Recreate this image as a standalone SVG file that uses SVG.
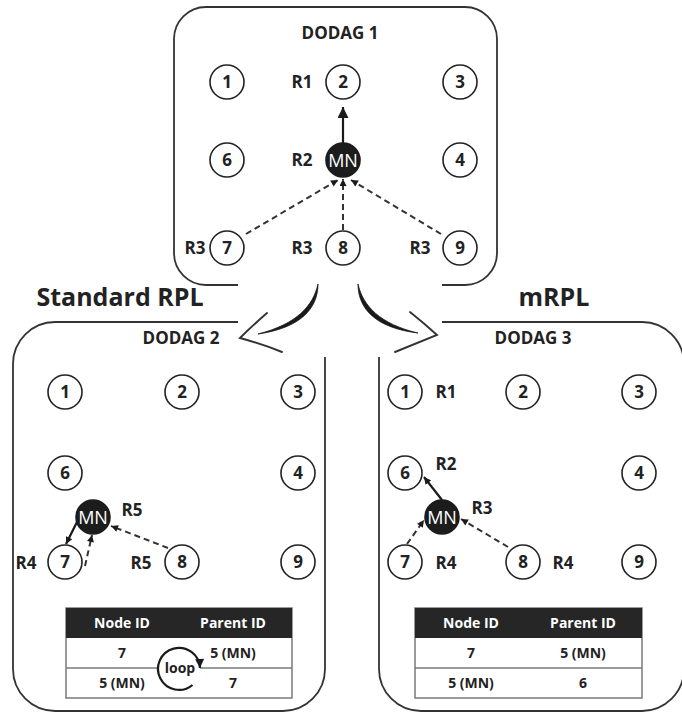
<svg xmlns="http://www.w3.org/2000/svg" width="682" height="713" viewBox="0 0 682 713">
<defs>
<style>
text{font-family:"Open Sans","Liberation Sans",sans-serif;font-weight:700;fill:#222;text-anchor:middle}
.box{fill:none;stroke:#333;stroke-width:1.8}
.nd circle{fill:#fff;stroke:#222;stroke-width:1.6}
.nd text{font-size:17px}
.mn circle{fill:#1c1c1c;stroke:#1c1c1c;stroke-width:1.6}
.mn text{font-size:18px;font-weight:400;fill:#fff}
.rl{font-size:17px}
.ttl{font-size:17px}
.big{font-size:25px}
.solid{stroke:#1a1a1a;stroke-width:2.2;fill:none}
.dash{stroke:#333;stroke-width:2;fill:none;stroke-dasharray:6 4}
.th{fill:#262626}
.tb{fill:#fff;stroke:#7a7a7a;stroke-width:1.5}
.tl{stroke:#7a7a7a;stroke-width:1.5}
.ht{font-size:14px;fill:#fff}
.rt{font-size:14px}
.brush{fill:#1a1a1a;stroke:#1a1a1a;stroke-width:0.8}
.arm{fill:none;stroke:#333;stroke-width:1.9;stroke-linecap:round}
</style>
<marker id="ab" viewBox="0 0 10 10" refX="10" refY="5" markerWidth="12" markerHeight="11" markerUnits="userSpaceOnUse" orient="auto"><path d="M0,0 L10,5 L0,10 z" fill="#1a1a1a"/></marker>
<marker id="as" viewBox="0 0 10 10" refX="10" refY="5" markerWidth="9" markerHeight="7" markerUnits="userSpaceOnUse" orient="auto"><path d="M0,0 L10,5 L0,10 z" fill="#1a1a1a"/></marker>
<marker id="al" viewBox="0 0 10 10" refX="10" refY="5" markerWidth="10" markerHeight="9" markerUnits="userSpaceOnUse" orient="auto"><path d="M0,0 L10,5 L0,10 z" fill="#1a1a1a"/></marker>
</defs>
<rect width="682" height="713" fill="#fff"/>

<!-- boxes -->
<g id="dodag1">
<path class="box" d="M238,285 H206 A32,32 0 0 1 174,253 V39 A32,32 0 0 1 206,7 H465 A32,32 0 0 1 497,39 V253 A32,32 0 0 1 465,285 H442"/>
<text class="ttl" x="340" y="39">DODAG 1</text>
</g>
<g id="dodag2">
<path class="box" d="M238,322 H55 A42,42 0 0 0 13,364 V669 A42,42 0 0 0 55,711 H283 A42,42 0 0 0 325,669 V357"/>
<text class="ttl" x="181" y="344">DODAG 2</text>
</g>
<g id="dodag3">
<path class="box" d="M379,357 V669 A42,42 0 0 0 421,711 H642 A42,42 0 0 0 684,669 V364 A42,42 0 0 0 642,322 H442"/>
<text class="ttl" x="533" y="344">DODAG 3</text>
</g>
<text class="big" x="120" y="306">Standard RPL</text>
<text class="big" x="554" y="306">mRPL</text>

<!-- connectors -->
<g id="connectors">
<path class="brush" d="M318,284 C318,309 300,328 258,334 C297,324 313,306 318,284 Z"/>
<path class="arm" d="M267,313 Q252,326 240,338 Q262,344 282,352"/>
<path class="brush" d="M358,284 C358,309 376,328 418,333 C380,324 363,306 358,284 Z"/>
<path class="arm" d="M410,312 Q425,324 437,335 Q415,344 395,352"/>

<line class="solid" x1="343" y1="143" x2="343" y2="107" marker-end="url(#ab)"/>
<line class="dash" x1="246" y1="234" x2="338" y2="180" marker-end="url(#as)"/>
<line class="dash" x1="343" y1="230" x2="343" y2="179" marker-end="url(#as)"/>
<line class="dash" x1="441" y1="234" x2="351" y2="180" marker-end="url(#as)"/>

<line class="solid" x1="77" y1="522" x2="66" y2="544" stroke-width="1.6" marker-end="url(#as)"/>
<line class="dash" x1="85" y1="566" x2="92" y2="535" marker-end="url(#as)"/>
<line class="dash" x1="168" y1="548" x2="111" y2="526" marker-end="url(#as)"/>

<line class="solid" x1="442" y1="500" x2="424" y2="477" stroke-width="1.6" marker-end="url(#as)"/>
<line class="dash" x1="407" y1="544" x2="424" y2="520" marker-end="url(#as)"/>
<line class="dash" x1="508" y1="547" x2="461" y2="519" marker-end="url(#as)"/>
</g>

<!-- DODAG 1 nodes -->
<g id="d1-n1" class="nd"><circle cx="227" cy="82" r="17"/><text x="227" y="88">1</text></g>
<g id="d1-n2" class="nd"><circle cx="343" cy="82" r="17"/><text x="343" y="88">2</text></g>
<g id="d1-n3" class="nd"><circle cx="460" cy="82" r="17"/><text x="460" y="88">3</text></g>
<g id="d1-n6" class="nd"><circle cx="227" cy="160" r="17"/><text x="227" y="166">6</text></g>
<g id="d1-mn" class="mn"><circle cx="343" cy="160" r="17"/><text x="343" y="166.5">MN</text></g>
<g id="d1-n4" class="nd"><circle cx="460" cy="160" r="17"/><text x="460" y="166">4</text></g>
<g id="d1-n7" class="nd"><circle cx="227" cy="248" r="17"/><text x="227" y="254">7</text></g>
<g id="d1-n8" class="nd"><circle cx="343" cy="248" r="17"/><text x="343" y="254">8</text></g>
<g id="d1-n9" class="nd"><circle cx="460" cy="248" r="17"/><text x="460" y="254">9</text></g>
<g id="d1-labels">
<text class="rl" x="302" y="88">R1</text>
<text class="rl" x="302" y="166">R2</text>
<text class="rl" x="195" y="254">R3</text>
<text class="rl" x="302" y="254">R3</text>
<text class="rl" x="420" y="254">R3</text>
</g>

<!-- DODAG 2 nodes -->
<g id="d2-n1" class="nd"><circle cx="65" cy="392" r="17"/><text x="65" y="398">1</text></g>
<g id="d2-n2" class="nd"><circle cx="182" cy="392" r="17"/><text x="182" y="398">2</text></g>
<g id="d2-n3" class="nd"><circle cx="298" cy="392" r="17"/><text x="298" y="398">3</text></g>
<g id="d2-n6" class="nd"><circle cx="65" cy="473" r="17"/><text x="65" y="479">6</text></g>
<g id="d2-n4" class="nd"><circle cx="298" cy="473" r="17"/><text x="298" y="479">4</text></g>
<g id="d2-mn" class="mn"><circle cx="93" cy="517" r="17"/><text x="93" y="523.5">MN</text></g>
<g id="d2-n7" class="nd"><circle cx="65" cy="562" r="17"/><text x="65" y="568">7</text></g>
<g id="d2-n8" class="nd"><circle cx="182" cy="562" r="17"/><text x="182" y="568">8</text></g>
<g id="d2-n9" class="nd"><circle cx="298" cy="562" r="17"/><text x="298" y="568">9</text></g>
<g id="d2-labels">
<text class="rl" x="132" y="516">R5</text>
<text class="rl" x="26" y="569">R4</text>
<text class="rl" x="141" y="569">R5</text>
</g>

<!-- DODAG 2 table -->
<g id="d2-table">
<rect class="tb" x="66" y="608" width="226" height="90"/>
<rect class="th" x="66" y="608" width="226" height="30"/>
<line class="tl" x1="66" y1="668" x2="292" y2="668"/>
<text class="ht" x="122" y="628">Node ID</text>
<text class="ht" x="233" y="628">Parent ID</text>
<text class="rt" x="122" y="658">7</text>
<text class="rt" x="233" y="658">5 (MN)</text>
<text class="rt" x="122" y="688">5 (MN)</text>
<text class="rt" x="233" y="688">7</text>
</g>
<g id="loop">
<circle cx="179" cy="669" r="21" fill="#fff"/>
<path d="M192.5,685 A21,21 0 1 1 200,668" fill="none" stroke="#1a1a1a" stroke-width="2.2" marker-end="url(#al)"/>
<text class="rt" x="180" y="673">loop</text>
</g>

<!-- DODAG 3 nodes -->
<g id="d3-n1" class="nd"><circle cx="405" cy="392" r="17"/><text x="405" y="398">1</text></g>
<g id="d3-n2" class="nd"><circle cx="523" cy="392" r="17"/><text x="523" y="398">2</text></g>
<g id="d3-n3" class="nd"><circle cx="639" cy="392" r="17"/><text x="639" y="398">3</text></g>
<g id="d3-n6" class="nd"><circle cx="405" cy="473" r="17"/><text x="405" y="479">6</text></g>
<g id="d3-n4" class="nd"><circle cx="639" cy="473" r="17"/><text x="639" y="479">4</text></g>
<g id="d3-mn" class="mn"><circle cx="442" cy="517" r="17"/><text x="442" y="523.5">MN</text></g>
<g id="d3-n7" class="nd"><circle cx="405" cy="562" r="17"/><text x="405" y="568">7</text></g>
<g id="d3-n8" class="nd"><circle cx="523" cy="562" r="17"/><text x="523" y="568">8</text></g>
<g id="d3-n9" class="nd"><circle cx="639" cy="562" r="17"/><text x="639" y="568">9</text></g>
<g id="d3-labels">
<text class="rl" x="446" y="398">R1</text>
<text class="rl" x="446" y="470">R2</text>
<text class="rl" x="482" y="514">R3</text>
<text class="rl" x="446" y="569">R4</text>
<text class="rl" x="563" y="569">R4</text>
</g>

<!-- DODAG 3 table -->
<g id="d3-table">
<rect class="tb" x="415" y="608" width="227" height="90"/>
<rect class="th" x="415" y="608" width="227" height="30"/>
<line class="tl" x1="415" y1="668" x2="642" y2="668"/>
<text class="ht" x="471" y="628">Node ID</text>
<text class="ht" x="583" y="628">Parent ID</text>
<text class="rt" x="471" y="658">7</text>
<text class="rt" x="583" y="658">5 (MN)</text>
<text class="rt" x="471" y="688">5 (MN)</text>
<text class="rt" x="583" y="688">6</text>
</g>
</svg>
